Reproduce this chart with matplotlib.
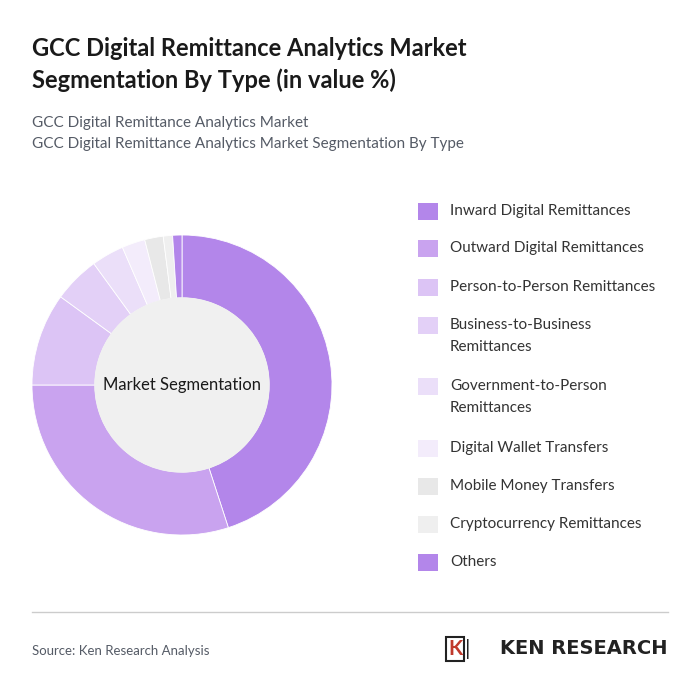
import matplotlib
matplotlib.use("Agg")
import matplotlib.pyplot as plt
from matplotlib.patches import Rectangle, Circle

labels = ["Inward Digital Remittances", "Outward Digital Remittances", "Person-to-Person Remittances",
          "Business-to-Business\nRemittances", "Government-to-Person\nRemittances", "Digital Wallet Transfers",
          "Mobile Money Transfers", "Cryptocurrency Remittances", "Others"]
values = [45, 30, 10, 5, 3.5, 2.5, 2, 1, 1]
colors = ["#b386ea", "#c9a3ef", "#dcc4f5", "#e3d0f7", "#ebdff9", "#f3ecfb", "#e8e8e8", "#efefef", "#b386ea"]

W, H = 700, 698
fig = plt.figure(figsize=(W/100, H/100), dpi=100)
fig.patch.set_facecolor("white")
plt.rcParams['font.family'] = ['Lato', 'DejaVu Sans']

def fy(y): return 1 - y/H
def fx(x): return x/W

fig.text(fx(32), fy(49), "GCC Digital Remittance Analytics Market", fontsize=17, weight="bold", color="#1a1a1a", va="center")
fig.text(fx(32), fy(80), "Segmentation By Type (in value %)", fontsize=17, weight="bold", color="#1a1a1a", va="center")
fig.text(fx(32), fy(123), "GCC Digital Remittance Analytics Market", fontsize=11, color="#555b66", va="center")
fig.text(fx(32), fy(144), "GCC Digital Remittance Analytics Market Segmentation By Type", fontsize=11, color="#555b66", va="center")

cx, cy, R = 182, 385, 150
ax = fig.add_axes([fx(cx-R), fy(cy+R), 2*R/W, 2*R/H])
ax.pie(values, colors=colors, startangle=90, counterclock=False,
       wedgeprops=dict(width=0.42, edgecolor="white", linewidth=0.6))
ax.add_patch(Circle((0, 0), 0.58, color="#f0f0f0", zorder=5))
ax.text(0, 0, "Market Segmentation", ha="center", va="center", fontsize=12, color="#1a1a1a", zorder=6)
ax.set_xlim(-1, 1); ax.set_ylim(-1, 1); ax.set_aspect("equal")

ys = [211, 248, 287, 336, 397, 448, 486, 524, 562]
for lab, c, y in zip(labels, colors, ys):
    first = y - (11 if "\n" in lab else 0)
    fig.patches.append(Rectangle((fx(418), fy(first+9)), 20/W, 17/H, transform=fig.transFigure,
                                 facecolor=c, edgecolor="none"))
    fig.text(fx(450), fy(y), lab, fontsize=11, color="#333333", va="center", linespacing=1.7)

fig.add_artist(plt.Line2D([fx(32), fx(668)], [fy(612), fy(612)], color="#cccccc", lw=1))
fig.text(fx(32), fy(651), "Source: Ken Research Analysis", fontsize=9.5, color="#555b66", va="center")
fig.text(fx(668), fy(649), "KEN RESEARCH", fontsize=14, weight="bold", color="#222222", va="center", ha="right",
         family=["DejaVu Sans"])
fig.text(fx(468), fy(649), "|", fontsize=16, color="#222222", va="center", ha="center")
fig.text(fx(455), fy(649), "K", fontsize=15, weight="bold", color="#c0392b", va="center", ha="center",
         bbox=dict(boxstyle="square,pad=0.1", fc="white", ec="#222222", lw=1.5))

fig.savefig("out.png", dpi=100)
